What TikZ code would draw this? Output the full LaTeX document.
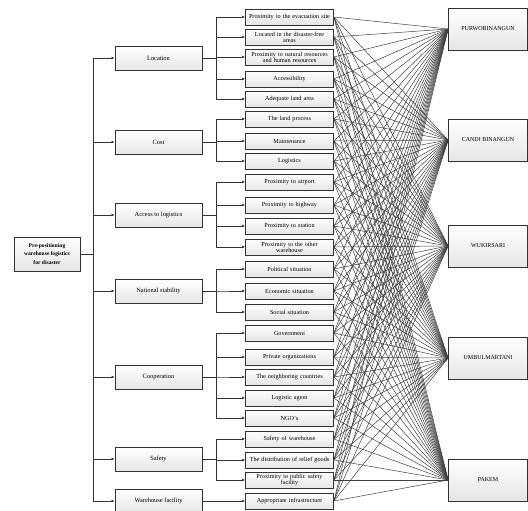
\documentclass[tikz,border=0pt]{standalone}
\usepackage{fontspec}
\setmainfont{Liberation Serif}
\usetikzlibrary{arrows.meta}

\begin{document}
\begin{tikzpicture}[x=1pt,y=-1pt,
  box/.style={draw=black!80,line width=0.8pt,top color=white,bottom color=black!10,
    inner sep=1pt,align=center},
  goalbox/.style={box,minimum width=66pt,minimum height=34pt,font=\fontsize{5.6}{8.5}\selectfont\bfseries},
  critbox/.style={box,minimum width=87pt,minimum height=24pt,font=\fontsize{6.4}{7}\selectfont},
  subbox/.style={box,minimum width=87pt,minimum height=16pt,text width=86pt,font=\fontsize{6.2}{6.2}\selectfont},
  altbox/.style={box,minimum width=79pt,minimum height=42pt,font=\fontsize{6}{7}\selectfont},
  arr/.style={draw=black!80,line width=0.7pt,-{Latex[length=3pt,width=2.8pt]}},
  link/.style={draw=black!75,line width=0.5pt}]
  \useasboundingbox (0,0) rectangle (528,511);

  % goal
  \node[goalbox] (goal) at (47,254) {Pre-positioning\\warehouse logistics\\for disaster};

  % criteria
  \node[critbox] (loc)  at (158.5,58)  {Location};
  \node[critbox] (cost) at (158.5,142) {Cost};
  \node[critbox] (acc)  at (158.5,215) {Access to logistics};
  \node[critbox] (nat)  at (158.5,291) {National stability};
  \node[critbox] (coop) at (158.5,377) {Cooperation};
  \node[critbox] (saf)  at (158.5,459) {Safety};
  \node[critbox] (fac)  at (158.5,501) {Warehouse facility};

  % sub-criteria
  \node[subbox] (s1)  at (289.5,17)  {Proximity to the evacuation site};
  \node[subbox] (s2)  at (289.5,37)  {Located in the disaster-free\\areas};
  \node[subbox] (s3)  at (289.5,57)  {Proximity to natural resources\\and human resources};
  \node[subbox] (s4)  at (289.5,79)  {Accessibility};
  \node[subbox] (s5)  at (289.5,99)  {Adequate land area};
  \node[subbox] (s6)  at (289.5,119) {The land process};
  \node[subbox] (s7)  at (289.5,141) {Maintenance};
  \node[subbox] (s8)  at (289.5,161) {Logistics};
  \node[subbox] (s9)  at (289.5,182) {Proximity to airport};
  \node[subbox] (s10) at (289.5,205) {Proximity to highway};
  \node[subbox] (s11) at (289.5,226) {Proximity to station};
  \node[subbox] (s12) at (289.5,247) {Proximity to the other\\warehouse};
  \node[subbox] (s13) at (289.5,269) {Political situation};
  \node[subbox] (s14) at (289.5,291) {Economic situation};
  \node[subbox] (s15) at (289.5,312) {Social situation};
  \node[subbox] (s16) at (289.5,333) {Government};
  \node[subbox] (s17) at (289.5,357) {Private organizations};
  \node[subbox] (s18) at (289.5,377) {The neighboring countries};
  \node[subbox] (s19) at (289.5,398) {Logistic agent};
  \node[subbox] (s20) at (289.5,418) {NGO's};
  \node[subbox] (s21) at (289.5,439) {Safety of warehouse};
  \node[subbox] (s22) at (289.5,460) {The distribution of relief goods};
  \node[subbox] (s23) at (289.5,480) {Proximity to public safety\\facility};
  \node[subbox] (s24) at (289.5,501) {Appropriate infrastructure};

  % alternatives
  \node[altbox] (a1) at (488,29)  {PURWOBINANGUN};
  \node[altbox] (a2) at (488,140) {CANDI BINANGUN};
  \node[altbox] (a3) at (488,246) {WUKIRSARI};
  \node[altbox] (a4) at (488,358) {UMBULMARTANI};
  \node[altbox] (a5) at (488,480) {PAKEM};

  % goal -> criteria
  \foreach \c in {loc,cost,acc,nat,coop,saf,fac}
    \draw[arr] (goal.east) -- ++(13,0) |- (\c.west);

  % criteria -> sub-criteria
  \foreach \s in {1,...,5}   \draw[arr] (loc.east)  -- ++(14,0) |- (s\s.west);
  \foreach \s in {6,...,8}   \draw[arr] (cost.east) -- ++(14,0) |- (s\s.west);
  \foreach \s in {9,...,12}  \draw[arr] (acc.east)  -- ++(14,0) |- (s\s.west);
  \foreach \s in {13,...,15} \draw[arr] (nat.east)  -- ++(14,0) |- (s\s.west);
  \foreach \s in {16,...,20} \draw[arr] (coop.east) -- ++(14,0) |- (s\s.west);
  \foreach \s in {21,...,23} \draw[arr] (saf.east)  -- ++(14,0) |- (s\s.west);
  \draw[arr] (fac.east) -- (s24.west);

  % sub-criteria -> alternatives
  \foreach \s in {1,...,24}
    \foreach \a in {a1,a2,a3,a4,a5}
      \draw[link] (s\s.east) -- (\a.west);
\end{tikzpicture}
\end{document}
